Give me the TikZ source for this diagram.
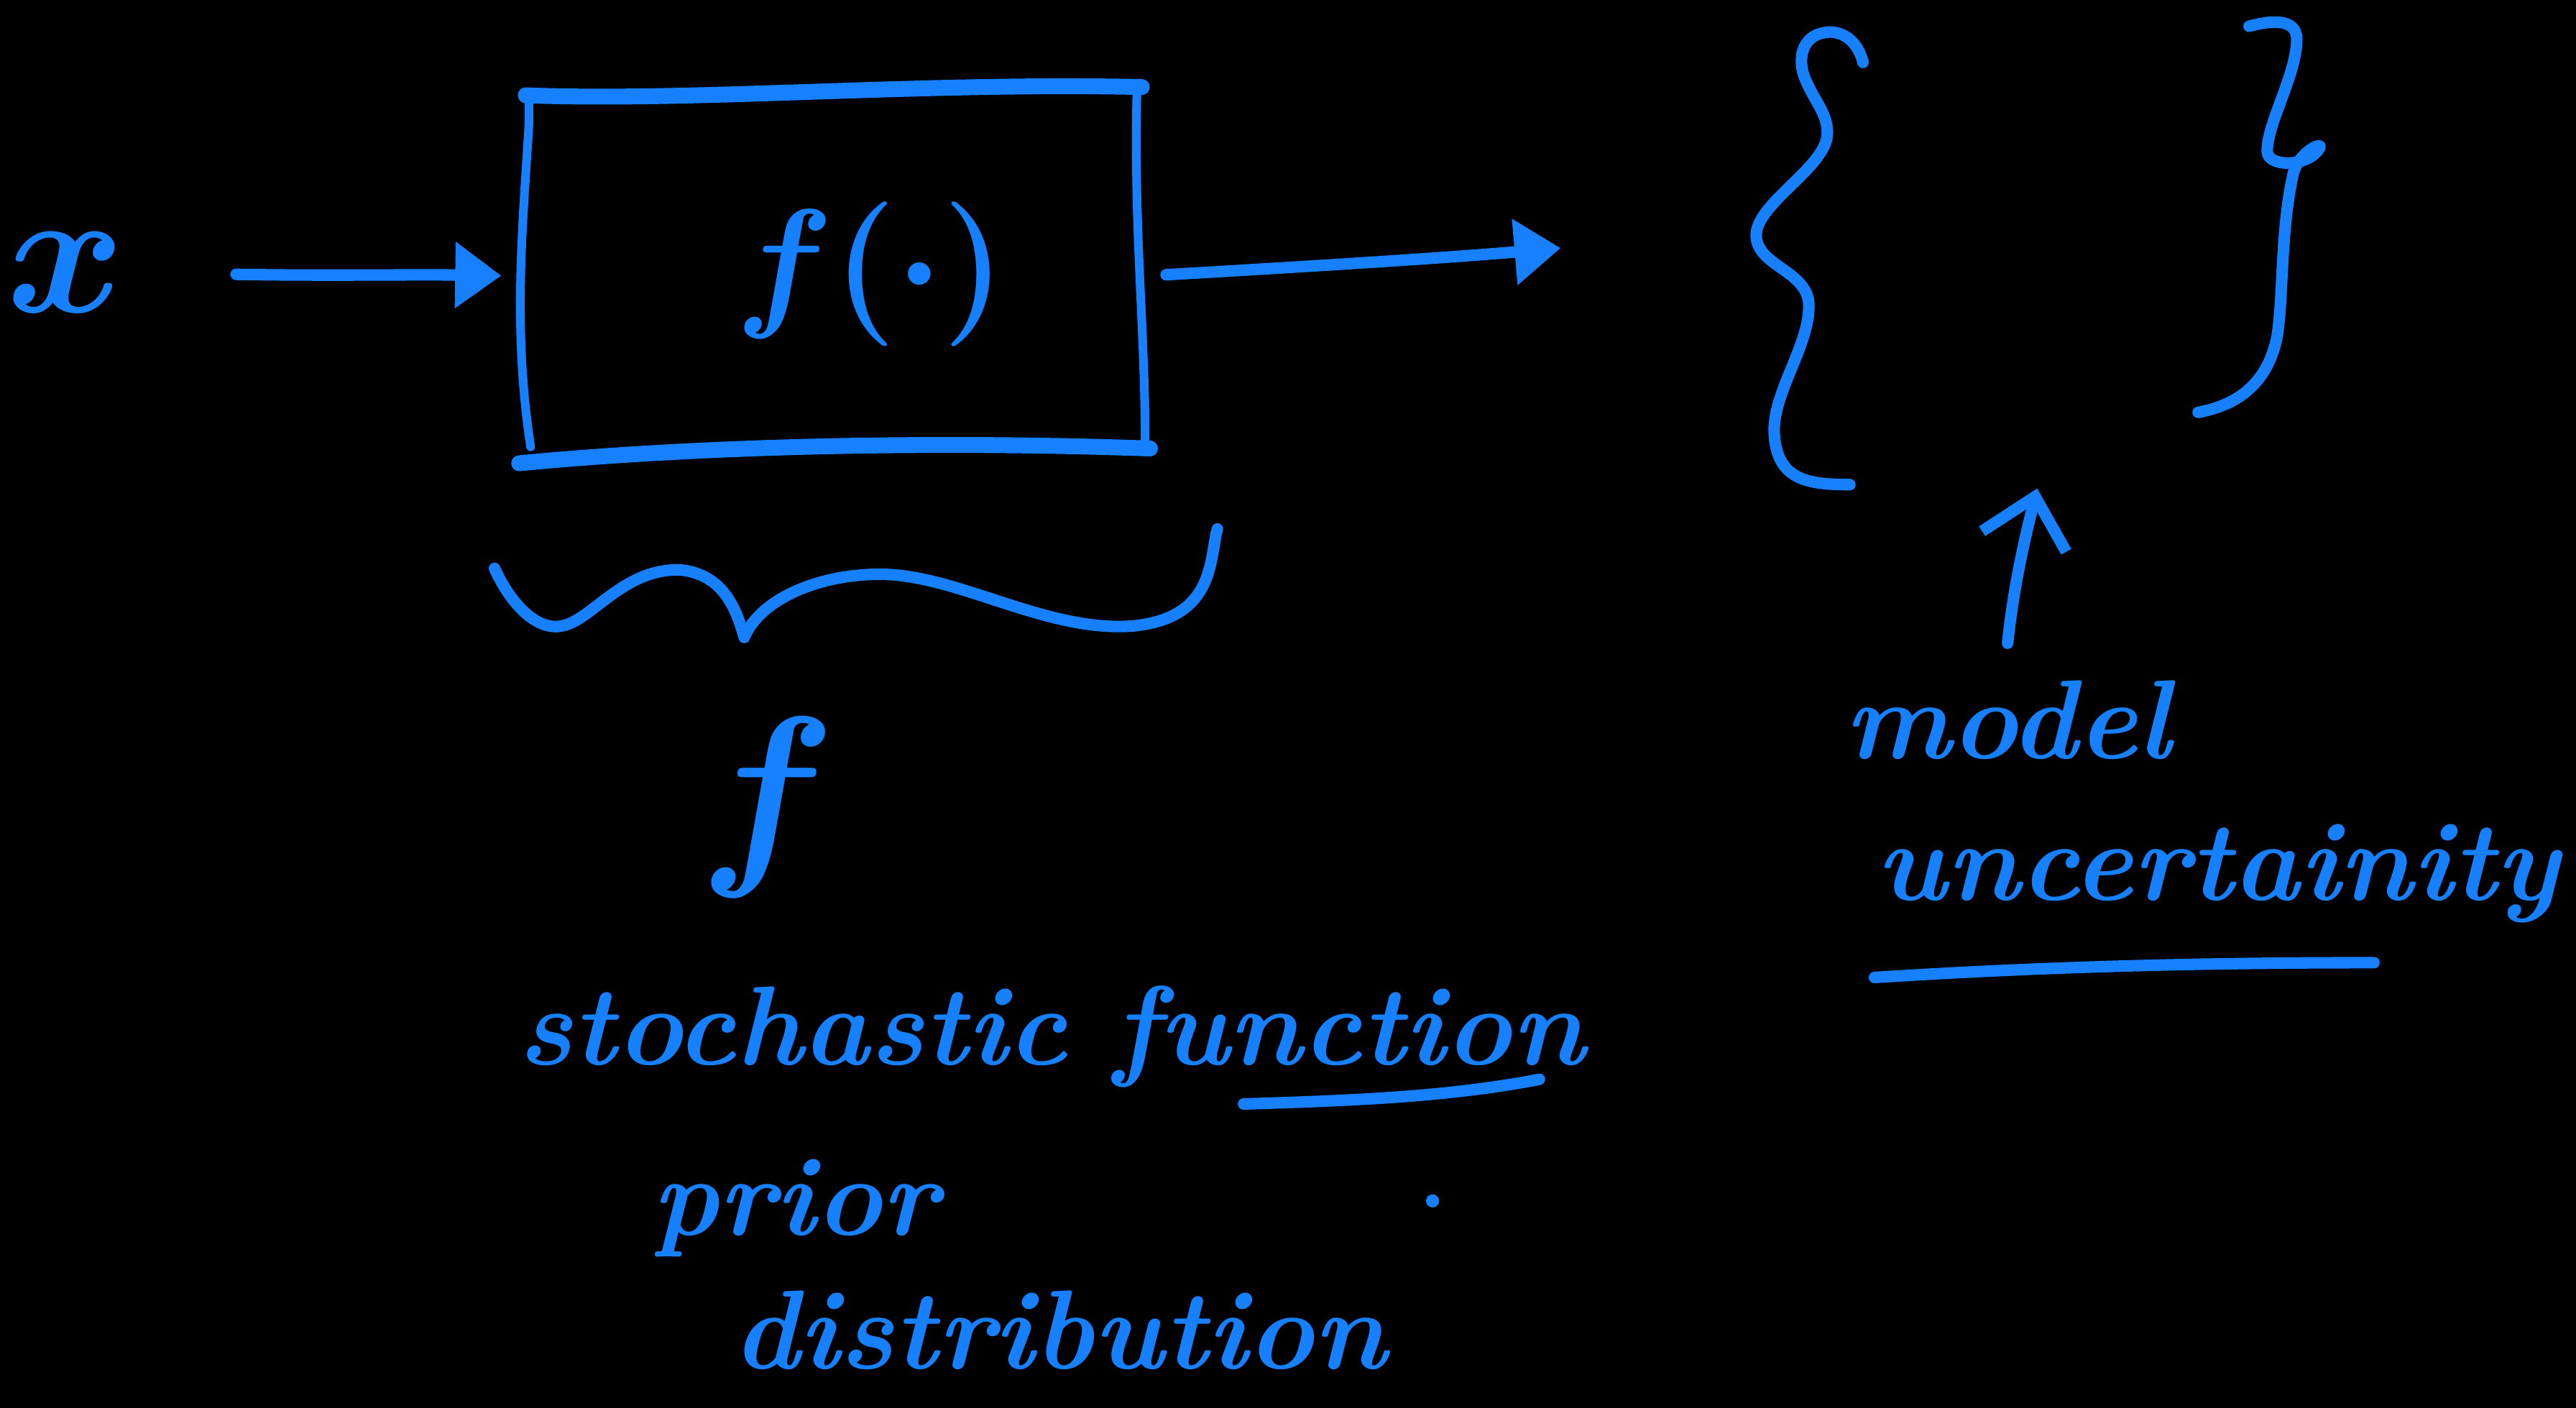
\documentclass[tikz,border=0pt]{standalone}
\usepackage{fix-cm}
\usepackage{fontspec}
\usetikzlibrary{arrows.meta}
\definecolor{inkblue}{RGB}{22,128,255}
\begin{document}
\begin{tikzpicture}[x=0.02cm,y=-0.02cm,line cap=round,line join=round,
  ink/.style={draw=inkblue,line width=4pt},
  thick ink/.style={draw=inkblue,line width=5.5pt},
  hand/.style={text=inkblue,font=\fontsize{39}{46}\selectfont\bfseries\itshape,inner sep=0pt,anchor=base},
  mathhand/.style={text=inkblue,inner sep=0pt,anchor=base},
  headtri/.style={-{Triangle[length=16pt,width=22pt]}},
  headbarb/.style={-{Straight Barb[length=16pt,width=30pt]}}]
\fill[black] (0,0) rectangle (1568,857);
\useasboundingbox (0,0) rectangle (1568,857);

% input and box
\node[mathhand,font=\fontsize{62}{70}\selectfont\boldmath] (xin) at (40,190) {$x$};
\node[minimum width=7.58cm,minimum height=4.4cm,inner sep=0pt] (box) at (507,168) {};
\node[mathhand,font=\fontsize{50}{56}\selectfont\boldmath] (fdot) at (530,189) {$f(\cdot)$};

\draw[thick ink] (320,58) .. controls (420,62) and (560,50) .. (695,53);
\draw[thick ink] (316,282) .. controls (420,272) and (560,268) .. (700,273);
\draw[ink,line width=3pt] (322,60) -- (322,75) .. controls (318,140) and (312,200) .. (323,272);
\draw[ink,line width=3pt] (692,56) .. controls (690,140) and (697,200) .. (697,268);

% arrows
\draw[ink,headtri,shorten <=1.35cm,shorten >=0.24cm] (xin.east) .. controls (200,168) and (250,167) .. (box.west);
\coordinate (outtip) at (950,151);
\draw[ink,headtri,shorten <=0.26cm] (box.east) .. controls (800,162) and (880,157) .. (outtip);

% set braces
\node[minimum width=7cm,minimum height=5.64cm,inner sep=0pt] (set) at (1240,156) {};
\draw[ink] (1134,38) .. controls (1130,22) and (1118,18) .. (1110,20)
  .. controls (1098,22) and (1094,34) .. (1098,46)
  .. controls (1104,62) and (1114,70) .. (1112,84)
  .. controls (1108,104) and (1068,125) .. (1069,144)
  .. controls (1070,162) and (1100,165) .. (1101,185)
  .. controls (1102,210) and (1078,240) .. (1080,265)
  .. controls (1082,292) and (1100,295) .. (1126,295);
\draw[ink] (1369,16) .. controls (1380,13) and (1398,10) .. (1398,24)
  .. controls (1398,45) and (1380,75) .. (1380,92)
  .. controls (1380,102) and (1405,102) .. (1412,90)
  .. controls (1414,86) and (1400,92) .. (1396,105)
  .. controls (1388,140) and (1390,180) .. (1386,205)
  .. controls (1380,235) and (1360,247) .. (1338,251);

% underbrace
\draw[ink] (301,346) .. controls (312,370) and (328,384) .. (342,381)
  .. controls (360,378) and (380,345) .. (415,347)
  .. controls (440,350) and (448,370) .. (453,388)
  .. controls (465,360) and (510,347) .. (545,350)
  .. controls (590,354) and (640,385) .. (690,381)
  .. controls (740,376) and (736,340) .. (741,322);

% labels
\node[mathhand,font=\fontsize{70}{78}\selectfont\boldmath] (fbig) at (467,522) {$f$};
\node[hand] (stoch) at (640,648) {stochastic function};
\draw[ink] (757,672) .. controls (820,670) and (880,668) .. (937,657);
\node[hand] (prior) at (484,752) {prior};
\node[hand] (distr) at (645,833) {distribution};
\fill[inkblue] (872,731) circle (4);

\node[hand] (model) at (1222,462) {model};
\node[hand] (uncert) at (1350,548) {uncertainity};
\draw[ink] (1141,595) .. controls (1250,588) and (1350,586) .. (1445,586);
\draw[ink,headbarb] ([yshift=0.45cm]model.north) .. controls (1226,355) and (1232,330) .. (set.south);
\end{tikzpicture}
\end{document}
